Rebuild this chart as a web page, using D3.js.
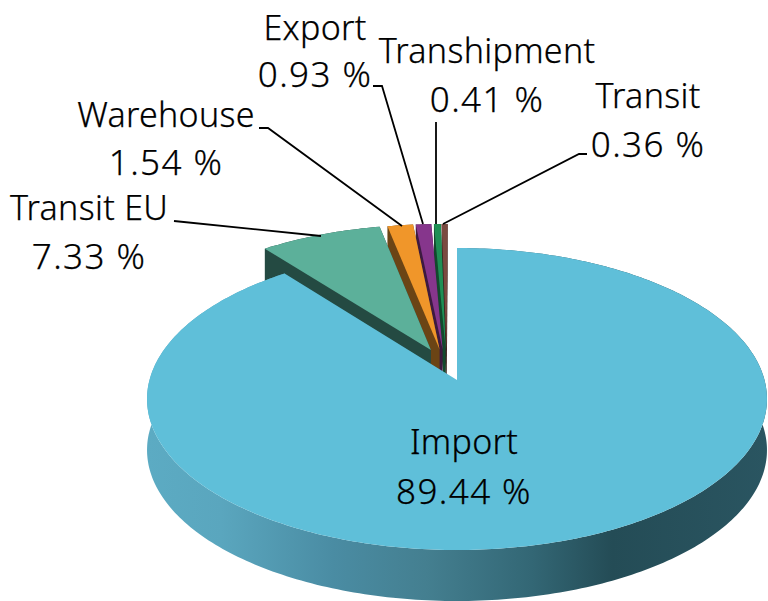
<!DOCTYPE html>
<html>
  <head>
    <meta charset="utf-8" />
    <script src="https://d3js.org/d3.v7.min.js"></script>
    <style>
      html, body { margin: 0; padding: 0; background: #fff; }
      svg { display: block; }
      text { font-family: "Noto Sans", sans-serif; font-weight: 300; fill: #000; stroke: #000; stroke-width: 0.25px; }
      .name { font-size: 34px; letter-spacing: 0.3px; }
      .value { font-size: 35px; letter-spacing: 1.4px; }
    </style>
  </head>

  <body>
    <div id="chart"></div>
  </body>

  <script>
    // chart values, in the order the slices run clockwise from 12 o'clock
    const categories = ['Import', 'Transit EU', 'Warehouse', 'Export', 'Transhipment', 'Transit']
    const shares = [89.44, 7.33, 1.54, 0.93, 0.41, 0.36]

    // styling, one entry per slice
    const topColors = ['#5fbfd9', '#5cb09a', '#f0962a', '#86368c', '#1f8f55', '#7a4a40']
    const wallColors = ['#4a8ea3', '#244a42', '#6b4415', '#3d1a40', '#124a2d', '#3d2520']
    // how far each slice is pulled out of the pie, in disk units
    const explode = [[0, 0], [-0.087, 0.207], [-0.058, 0.21], [-0.048, 0.21], [-0.038, 0.21], [-0.035, 0.21]]

    // label blocks: anchor x, first and second baseline
    const labelPos = [[464, 454, 504], [89, 220, 269], [166, 127, 175], [315, 40, 87], [487, 63, 112], [648, 108, 157]]
    // leader lines
    const leaders = [
      null,
      [[174, 221], [321, 236]],
      [[259, 128], [268, 128], [402, 226]],
      [[373, 86], [382, 86], [423, 224]],
      [[436, 122], [436, 224]],
      [[587, 154], [579, 154], [443, 224]]
    ]

    const width = 768, height = 601
    const cx = 457, cy = 380      // where the pie centre lands on screen
    const depth = 51              // height of the pie wall

    // perspective of the tilted disk
    const persp = 0.126, scaleX = 307.5, scaleY = 148.6

    function project (x, y) {
      let w = 1 + persp * y
      return [cx + scaleX * x / w, cy - scaleY * y / w]
    }

    let svg = d3.select('#chart').append('svg')
      .attr('width', width)
      .attr('height', height)

    // horizontal shading of the front wall
    let grad = svg.append('defs').append('linearGradient')
      .attr('id', 'wall')
      .attr('gradientUnits', 'userSpaceOnUse')
      .attr('x1', 147).attr('x2', 767).attr('y1', 0).attr('y2', 0)
    grad.selectAll('stop')
      .data([[0, '#5cabc3'], [0.12, '#5aa6be'], [0.3, '#4a8ca3'], [0.45, '#447f90'], [0.62, '#336775'], [0.75, '#244c56'], [1, '#2a5561']])
      .enter().append('stop')
      .attr('offset', d => d[0])
      .attr('stop-color', d => d[1])

    // pie angles, no sorting so that the order stays as given
    let pie = d3.pie().sort(null)
    let arcs = pie(shares)

    // outline of one slice, as screen points
    function arcPoints (d, i) {
      let n = Math.max(4, Math.ceil((d.endAngle - d.startAngle) * 60))
      return d3.range(n + 1).map(k => {
        let a = d.startAngle + (d.endAngle - d.startAngle) * k / n
        return project(Math.sin(a) + explode[i][0], Math.cos(a) + explode[i][1])
      })
    }

    let line = d3.line().curve(d3.curveLinearClosed)
    let down = p => [p[0], p[1] + depth]

    let slices = arcs.map((d, i) => {
      let rim = arcPoints(d, i)
      let apex = project(explode[i][0], explode[i][1])
      return {rim: rim, top: [apex].concat(rim), i: i}
    })
    let wedges = slices.filter(s => s.i > 0)
    let main = slices[0]

    // walls of the pulled out slices, right to left so the left one stays in front
    svg.append('g').selectAll('path')
      .data(wedges.slice().reverse())
      .enter().append('path')
      .attr('d', s => line(d3.polygonHull(s.top.concat(s.top.map(down)))))
      .attr('fill', s => wallColors[s.i])

    svg.append('g').selectAll('path')
      .data(wedges)
      .enter().append('path')
      .attr('d', s => line(s.top))
      .attr('fill', s => topColors[s.i])

    // the big slice covers the feet of the others
    svg.append('path')
      .attr('d', line(main.rim.concat(main.rim.map(down).reverse())))
      .attr('fill', 'url(#wall)')

    svg.append('path')
      .attr('d', line(main.top))
      .attr('fill', topColors[0])

    // leader lines
    svg.append('g').selectAll('path')
      .data(leaders.filter(d => d))
      .enter().append('path')
      .attr('d', d3.line())
      .attr('fill', 'none')
      .attr('stroke', '#000')
      .attr('stroke-width', 1.8)

    // labels
    let labels = svg.append('g').attr('text-anchor', 'middle')
      .selectAll('text')
      .data(categories)
      .enter().append('text')

    labels.append('tspan')
      .attr('class', 'name')
      .attr('x', (d, i) => labelPos[i][0])
      .attr('y', (d, i) => labelPos[i][1])
      .text(d => d)

    labels.append('tspan')
      .attr('class', 'value')
      .attr('x', (d, i) => labelPos[i][0])
      .attr('y', (d, i) => labelPos[i][2])
      .text((d, i) => shares[i].toFixed(2) + ' %')
  </script>
</html>
